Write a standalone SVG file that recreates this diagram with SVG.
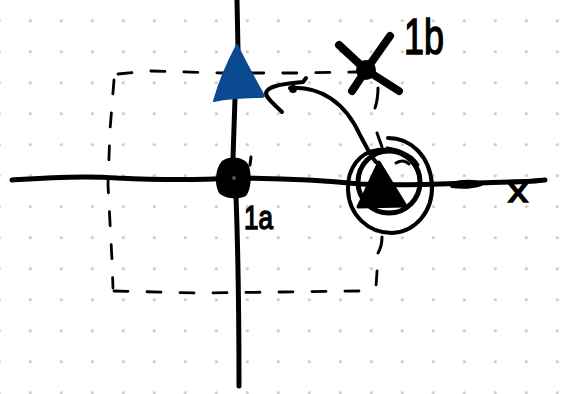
<svg xmlns="http://www.w3.org/2000/svg" width="566" height="394" viewBox="0 0 566 394">
  <defs>
    <pattern id="dots" patternUnits="userSpaceOnUse" x="14.8" y="5.2" width="31" height="31">
      <circle cx="15.5" cy="15.5" r="1.6" fill="#c9c9c9"/>
    </pattern>
    <style>
      .ink { fill: none; stroke: #000; stroke-linecap: round; stroke-linejoin: round; }
      .axis { stroke-width: 5; }
      .dash { stroke-width: 2.8; stroke-dasharray: 14 19; }
      .curve { stroke-width: 4; }
      .lbl { font-family: "Liberation Sans", "DejaVu Sans", sans-serif; fill: #000; stroke: #000; stroke-width: 1.5; }
    </style>
  </defs>
  <rect width="566" height="394" fill="#fff"/>
  <rect width="566" height="394" fill="url(#dots)"/>

  <g id="connectors">
    <!-- dashed frame -->
    <path class="ink dash" d="M118 74 L150 71 L225 73 L300 73 L356 72"/>
    <path class="ink dash" d="M114 80 L110 130 L108 185 L112 260 L113 288"/>
    <path class="ink dash" d="M114 291 L200 293 L280 292 L360 291 L376 286 L378 258"/>
    <!-- horizontal axis -->
    <path class="ink axis" d="M12 180 C40 178 80 175 117 178 C160 180 200 180 232 178 C290 178 330 181 360 184 C400 186 440 184 470 183 C510 182 530 182 545 180"/>
    <path class="ink" stroke-width="4" d="M452 184 C462 181 475 181 481 184 C472 187 460 187 452 186"/>
    <!-- vertical axis -->
    <path class="ink axis" d="M237 0 L238 50"/>
    <path class="ink axis" d="M235 98 L233 158"/>
    <path class="ink axis" d="M236 196 C238 250 239 320 239 386"/>
    <!-- curved connector -->
    <path class="ink curve" d="M282 112 C274 104 266 98 266 93 C268 85 285 84 303 82 L306 78"/>
    <path class="ink curve" d="M290 88 C320 86 345 102 360 135 C368 150 372 158 376 162"/>
    <circle cx="293" cy="89" r="4" fill="#000"/>
  </g>

  <g id="node-blue-triangle">
    <path d="M237 45 C244 60 254 78 264 96 L262 97 C245 97 228 98 214 101 C219 83 228 62 237 45 Z" fill="#0b4a91" stroke="#0b4a91" stroke-width="2" stroke-linejoin="round"/>
  </g>

  <g id="node-1a">
    <path d="M222 161 C231 155 245 157 249 166 C252 177 251 189 246 196 C238 200 225 199 219 193 C214 184 215 169 222 161 Z" fill="#000"/>
    <circle cx="234" cy="178" r="2" fill="#555"/>
    <path class="ink" stroke-width="3" d="M251 157 L250 165"/>
    <text class="lbl" x="244" y="229" font-size="34" textLength="29" lengthAdjust="spacingAndGlyphs">1a</text>
  </g>

  <g id="node-1b">
    <path class="ink" stroke-width="8" d="M339 45 L366 70 L390 36"/>
    <path class="ink" stroke-width="8" d="M352 91 L366 70 L399 91"/>
    <circle cx="366" cy="70" r="10" fill="#000"/>
    <path class="ink" stroke-width="3" d="M378 88 C378 95 377 102 375 108"/>
    <text class="lbl" x="404" y="54" font-size="50" textLength="40" lengthAdjust="spacingAndGlyphs">1b</text>
  </g>

  <g id="node-target">
    <path d="M379 162 L406 206 L358 207 Z" fill="#000" stroke="#000" stroke-width="3" stroke-linejoin="round"/>
    <circle cx="389" cy="182" r="31" class="ink" stroke-width="5"/>
    <path class="ink" stroke-width="4" d="M388 138 C410 138 430 155 432 185 C433 212 415 232 392 233 C368 233 349 215 348 190 C347 168 360 152 378 150 C400 148 418 160 420 180"/>
    <path class="ink" stroke-width="3" d="M387 148 C402 150 414 157 418 165 M396 163 C401 160 405 160 409 164"/>
    <path class="ink" stroke-width="3" d="M377 133 L382 147"/>
    <path class="ink" stroke-width="3" d="M382 237 C382 244 381 248 378 253"/>
  </g>

  <g id="label-x">
    <text class="lbl" x="508" y="202" font-size="34" textLength="20" lengthAdjust="spacingAndGlyphs">x</text>
  </g>
</svg>
